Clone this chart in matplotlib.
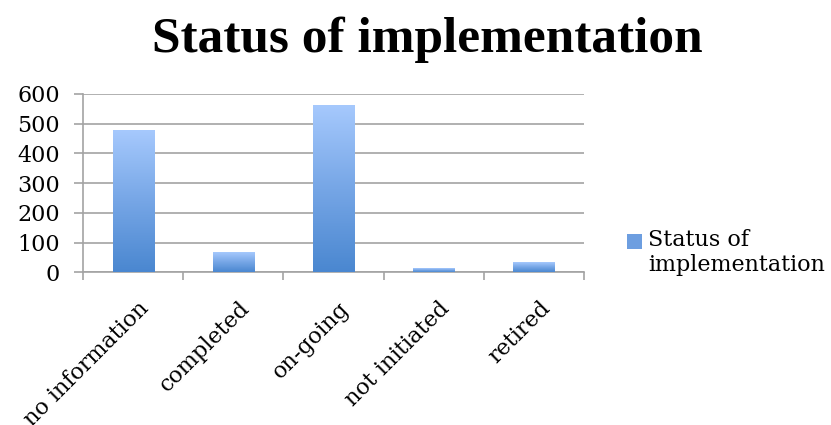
import numpy as np
import matplotlib
matplotlib.use("Agg")
import matplotlib.pyplot as plt
import matplotlib.transforms as mtransforms
from matplotlib.colors import LinearSegmentedColormap
from matplotlib.patches import Patch, Rectangle
from matplotlib.legend_handler import HandlerPatch

# data
categories = ["no information", "completed", "on-going", "not initiated", "retired"]
counts = [476, 66, 560, 13, 32]
series_name = "Status of implementation"
yticks = [0, 100, 200, 300, 400, 500, 600]

plt.rcParams['font.family'] = ['DejaVu Serif', 'DejaVu Sans']

fig = plt.figure(figsize=(8.31, 4.25), dpi=100)
ax = fig.add_axes([83 / 831, 1 - 272.3 / 425, 501 / 831, 178.3 / 425])

grad = LinearSegmentedColormap.from_list("bargrad", ["#4a87d0", "#76a6e6", "#a6c9fd"])
gridc = "#a3a3a3"

x = np.arange(len(categories))
bars = ax.bar(x, counts, width=0.41, color="none", edgecolor="none", zorder=3)

# gradient fill per bar, light at the top and darker at the bottom
g = np.linspace(0, 1, 256).reshape(-1, 1)
for b in bars:
    x0, w, h = b.get_x(), b.get_width(), b.get_height()
    ax.imshow(g, cmap=grad, origin="lower", aspect="auto",
              extent=(x0, x0 + w, 0, h), zorder=3)

ax.set_xlim(-0.5, len(categories) - 0.5)
ax.set_ylim(0, 600)
ax.set_yticks(yticks)
ax.tick_params(axis="y", labelsize=16, length=6.5, width=1.2, color=gridc, pad=10)
ax.yaxis.grid(True, color=gridc, linewidth=1.2, zorder=0)

# category ticks sit between bars
ax.set_xticks(np.arange(len(categories) + 1) - 0.5)
ax.set_xticklabels([])
ax.tick_params(axis="x", length=6, width=1.2, color=gridc)
ax.set_xticks(x, minor=True)
ax.set_xticklabels(categories, minor=True, rotation=45, ha="right",
                   rotation_mode="anchor", fontsize=16)
ax.tick_params(axis="x", which="minor", length=0, pad=18)
shift = mtransforms.ScaledTranslation(5 / 100, 0, fig.dpi_scale_trans)
for lab in ax.get_xticklabels(minor=True):
    lab.set_transform(lab.get_transform() + shift)

for s in ["top", "right"]:
    ax.spines[s].set_visible(False)
for s in ["left", "bottom"]:
    ax.spines[s].set_color(gridc)
    ax.spines[s].set_linewidth(1.2)

fig.text(427 / 831, 1 - 52 / 425, series_name, ha="center", va="baseline",
         fontsize=37, fontweight="bold", family="Liberation Serif")


# legend square sits next to the first line of the two-line label
def square_first_line(legend, orig_handle, xdescent, ydescent, width, height, fontsize):
    return Rectangle((-xdescent, -ydescent + fontsize * 0.55), width, height)


handle = Patch(facecolor="#6d9ee0", edgecolor="none")
fig.legend([handle], ["Status of\nimplementation"], loc="upper left",
           bbox_to_anchor=(627 / 831, 1 - 229 / 425), frameon=False,
           borderpad=0, borderaxespad=0, fontsize=16,
           handlelength=0.68, handleheight=0.68, handletextpad=0.27,
           handler_map={Patch: HandlerPatch(patch_func=square_first_line)})

fig.savefig("out.png", dpi=100)
